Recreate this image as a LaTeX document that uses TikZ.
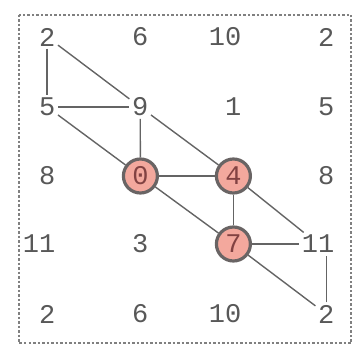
\documentclass[tikz,border=0pt]{standalone}
\usepackage{fontspec}
\setmonofont{Liberation Mono}
\usetikzlibrary{positioning}
\usepackage{xcolor}
\definecolor{numgray}{RGB}{88,88,88}
\definecolor{linegray}{RGB}{100,100,100}
\definecolor{hitfill}{RGB}{243,168,157}
\definecolor{hitedge}{RGB}{105,100,100}

\begin{document}
\begin{tikzpicture}[x=1pt, y=-1pt,
    num/.style={anchor=east, inner sep=2.5pt, text=numgray,
        font=\ttfamily\fontsize{27}{27}\selectfont},
    hit/.style={anchor=center, xshift=-10.6pt, circle, draw=hitedge, line width=3.2pt,
        fill=hitfill, minimum size=34pt, inner sep=0pt, text=numgray!75!red},
    cell-2-1/.style={hit}, cell-2-2/.style={hit}, cell-3-2/.style={hit},
    link/.style={linegray, line width=1.4pt}]
    \useasboundingbox (0,0) rectangle (361,358);

    % gepunkteter Rahmen
    \draw[black!50, line width=2.5pt, dash pattern=on 2.5pt off 2pt] (19,15) rectangle (351,343);

    % Zahlengitter
    \foreach [count=\r from 0] \y/\vals in {37/{2,6,10,2}, 107/{5,9,1,5},
        176/{8,0,4,8}, 244/{11,3,7,11}, 314/{2,6,10,2}} {
        \foreach [count=\c from 0] \v in \vals {
            \node[num, cell-\r-\c/.try] (n-\r-\c) at ({58+93*\c}, \y) {\v};
        }
    }

    % Verbindungen
    \foreach \a/\b in {0-0/1-0, 0-0/1-1, 1-0/1-1, 1-0/2-1, 1-1/2-1, 1-1/2-2,
        2-1/2-2, 2-1/3-2, 2-2/3-2, 2-2/3-3, 3-2/3-3, 3-2/4-3}
        \draw[link] (n-\a) -- (n-\b);
    \draw[link] (n-4-3) -- (n-4-3 |- n-3-3.south);
\end{tikzpicture}
\end{document}
